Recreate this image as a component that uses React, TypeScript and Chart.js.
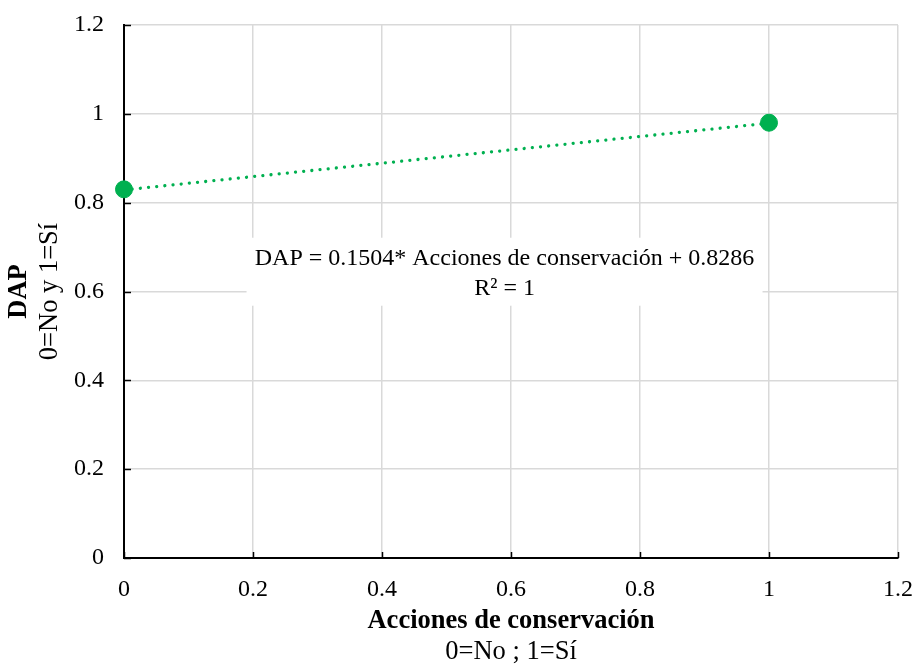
import React, { useEffect, useRef } from "react";
import { Chart, registerables } from "chart.js";

Chart.register(...registerables);

// Data
const categoriesX = [0, 1];
const dapValues = [0.83, 0.98];
const trendX = [0, 1];
const trendY = [0.8286, 0.979];
const xTickValues = [0, 0.2, 0.4, 0.6, 0.8, 1, 1.2];
const xTickLabels = ["0", "0.2", "0.4", "0.6", "0.8", "1", "1.2"];
const yTickValues = [0, 0.2, 0.4, 0.6, 0.8, 1, 1.2];
const yTickLabels = ["0", "0.2", "0.4", "0.6", "0.8", "1", "1.2"];
const equationLines = ["DAP = 0.1504* Acciones de conservación + 0.8286", "R² = 1"];
const xTitleLines = ["Acciones de conservación", "0=No ; 1=Sí"];
const yTitleLines = ["DAP", "0=No y 1=Sí"];

const FONT = "'Liberation Serif', 'Times New Roman', serif";
const GREEN = "#00B050";

const decorPlugin = {
  id: "decor",
  beforeDatasetsDraw(chart: any) {
    const ctx = chart.ctx;
    const xs = chart.scales.x;
    const ys = chart.scales.y;
    const area = chart.chartArea;
    ctx.save();
    // inward ticks
    ctx.strokeStyle = "#000";
    ctx.lineWidth = 1.5;
    xTickValues.forEach((v) => {
      const px = Math.round(xs.getPixelForValue(v)) + 0.5;
      ctx.beginPath();
      ctx.moveTo(px, area.bottom);
      ctx.lineTo(px, area.bottom - 6);
      ctx.stroke();
    });
    yTickValues.forEach((v) => {
      const py = Math.round(ys.getPixelForValue(v)) + 0.5;
      ctx.beginPath();
      ctx.moveTo(area.left, py);
      ctx.lineTo(area.left + 7, py);
      ctx.stroke();
    });
    // equation box
    const cx = xs.getPixelForValue(0.59);
    const cy = ys.getPixelForValue(0.64);
    ctx.fillStyle = "#fff";
    ctx.fillRect(cx - 258, cy - 36, 516, 68);
    ctx.fillStyle = "#000";
    ctx.font = `24px ${FONT}`;
    ctx.textAlign = "center";
    ctx.textBaseline = "middle";
    ctx.fillText(equationLines[0], cx, cy - 15);
    ctx.fillText(equationLines[1], cx, cy + 15);
    ctx.restore();
  },
  afterDraw(chart: any) {
    const ctx = chart.ctx;
    const area = chart.chartArea;
    ctx.save();
    ctx.fillStyle = "#000";
    ctx.textAlign = "center";
    ctx.textBaseline = "middle";
    const midX = (area.left + area.right) / 2;
    ctx.font = `bold 26.5px ${FONT}`;
    ctx.fillText(xTitleLines[0], midX, area.bottom + 63);
    ctx.font = `26.5px ${FONT}`;
    ctx.fillText(xTitleLines[1], midX, area.bottom + 94);
    const midY = (area.top + area.bottom) / 2;
    ctx.translate(0, midY);
    ctx.rotate(-Math.PI / 2);
    ctx.font = `bold 26.5px ${FONT}`;
    ctx.fillText(yTitleLines[0], 0, 19);
    ctx.font = `26.5px ${FONT}`;
    ctx.fillText(yTitleLines[1], 0, 50);
    ctx.restore();
  },
};

const fitX = (s: any) => {
  s.height = 106;
  s.paddingLeft = 0;
  s.paddingRight = 0;
  s.paddingTop = 0;
  s.paddingBottom = 0;
};
const fitY = (s: any) => {
  s.width = 124;
  s.paddingLeft = 0;
  s.paddingRight = 0;
  s.paddingTop = 0;
  s.paddingBottom = 0;
};

export default function App() {
  const ref = useRef<HTMLCanvasElement>(null);
  useEffect(() => {
    if (!ref.current) return;
    const chart = new Chart(ref.current, {
      type: "scatter",
      data: {
        datasets: [
          {
            label: "DAP",
            data: categoriesX.map((x, i) => ({ x, y: dapValues[i] })),
            backgroundColor: GREEN,
            borderColor: GREEN,
            pointRadius: 8.5,
            pointHoverRadius: 8.5,
            clip: false,
            order: 0,
          } as any,
          {
            type: "line",
            label: "Tendencia",
            data: trendX.map((x, i) => ({ x, y: trendY[i] })),
            borderColor: GREEN,
            borderWidth: 3.3,
            borderDash: [0.01, 8.2],
            borderCapStyle: "round",
            pointRadius: 0,
            fill: false,
            clip: false,
            order: 1,
          } as any,
        ],
      },
      options: {
        animation: false,
        responsive: false,
        layout: { padding: { top: 25, right: 17, left: 0, bottom: 0 } },
        plugins: { legend: { display: false }, tooltip: { enabled: false } },
        scales: {
          x: {
            type: "linear",
            min: 0,
            max: 1.2,
            afterBuildTicks: (s: any) => {
              s.ticks = xTickValues.map((v) => ({ value: v }));
            },
            afterFit: fitX,
            ticks: {
              callback: (v: any) => xTickLabels[xTickValues.findIndex((t) => Math.abs(t - v) < 1e-6)],
              color: "#000",
              font: { family: FONT, size: 24 },
              padding: 17,
              maxRotation: 0,
            },
            grid: { color: "#d9d9d9", lineWidth: 1.5, drawTicks: false },
            border: { color: "#000", width: 2 },
          },
          y: {
            type: "linear",
            min: 0,
            max: 1.2,
            afterBuildTicks: (s: any) => {
              s.ticks = yTickValues.map((v) => ({ value: v }));
            },
            afterFit: fitY,
            ticks: {
              callback: (v: any) => yTickLabels[yTickValues.findIndex((t) => Math.abs(t - v) < 1e-6)],
              color: "#000",
              font: { family: FONT, size: 24 },
              padding: 20,
            },
            grid: { color: "#d9d9d9", lineWidth: 1.5, drawTicks: false },
            border: { color: "#000", width: 2 },
          },
        },
      },
      plugins: [decorPlugin],
    });
    return () => chart.destroy();
  }, []);
  return (
    <div style={{ position: "absolute", left: 0, top: 0, width: 915, height: 664, background: "#fff" }}>
      <canvas ref={ref} width={915} height={664} />
    </div>
  );
}
